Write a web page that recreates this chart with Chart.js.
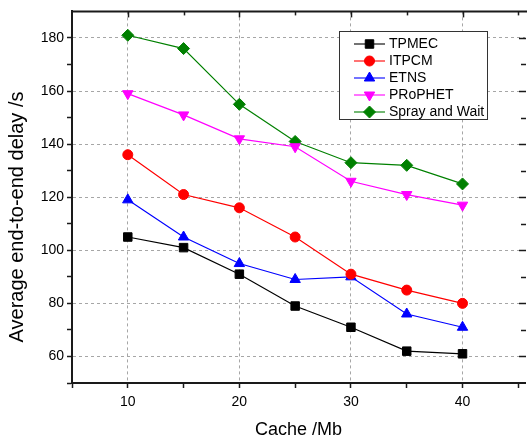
<!DOCTYPE html>
<html><head><meta charset="utf-8">
<script src="https://cdn.jsdelivr.net/npm/chart.js@4"></script>
<style>html,body{margin:0;padding:0;background:#fff}#wrap{width:532px;height:441px;position:relative}</style>
</head><body><div id="wrap"><canvas id="c" width="532" height="441"></canvas></div>
<script>
// ---- data ----
const cacheSizes = [10, 15, 20, 25, 30, 35, 40];
const tpmec     = [105, 101, 91, 79, 71, 62, 61];
const itpcm     = [136, 121, 116, 105, 91, 85, 80];
const etns      = [119, 105, 95, 89, 90, 76, 71];
const prophet   = [159, 151, 142, 139, 126, 121, 117];
const sprayWait = [181, 176, 155, 141, 133, 132, 125];
const seriesNames = ['TPMEC', 'ITPCM', 'ETNS', 'PRoPHET', 'Spray and Wait'];
const xTickLabels = [10, 20, 30, 40];
const yTickLabels = [60, 80, 100, 120, 140, 160, 180];
const xTitle = 'Cache /Mb';
const yTitle = 'Average end-to-end delay /s';

const FONT = '"Liberation Sans", Arial, sans-serif';
const seriesValues = [tpmec, itpcm, etns, prophet, sprayWait];
const styles = [
  {color: '#000000', pointStyle: 'rect',    radius: 6,   rotation: 0},
  {color: '#ff0000', pointStyle: 'circle',  radius: 5,   rotation: 0},
  {color: '#0000ff', pointStyle: 'triangle',radius: 6,   rotation: 0},
  {color: '#ff00ff', pointStyle: 'triangle',radius: 6,   rotation: 180},
  {color: '#008000', pointStyle: 'rectRot', radius: 6,   rotation: 0}
];

const datasets = seriesValues.map((vals, i) => ({
  label: seriesNames[i],
  data: cacheSizes.map((c, j) => ({x: c, y: vals[j]})),
  borderColor: styles[i].color,
  backgroundColor: styles[i].color,
  pointBackgroundColor: styles[i].color,
  pointBorderColor: styles[i].color,
  pointStyle: styles[i].pointStyle,
  pointRadius: styles[i].radius,
  pointRotation: styles[i].rotation,
  pointBorderWidth: 1,
  borderWidth: 1.2,
  tension: 0,
  fill: false
}));

const AXIS = '#1a1a1a';
const GRID = '#a6a6a6';

function drawMarker(ctx, ds, x, y) {
  if (Chart.helpers && Chart.helpers.drawPoint) {
    Chart.helpers.drawPoint(ctx, {pointStyle: ds.pointStyle, radius: ds.pointRadius, rotation: ds.pointRotation || 0, borderWidth: 1}, x, y);
  }
}

const framePlugin = {
  id: 'frame',
  afterDatasetsDraw(chart) {
    const {ctx, chartArea: a, scales} = chart;
    ctx.save();
    ctx.strokeStyle = AXIS;
    ctx.lineWidth = 2;
    ctx.beginPath();
    ctx.moveTo(a.left - 1, a.top);
    ctx.lineTo(a.right + 2, a.top);
    ctx.stroke();
    ctx.lineWidth = 1.5;
    for (let v = 10; v <= 45; v += 5) {
      const px = Math.round(scales.x.getPixelForValue(v)) + 0.5;
      const len = (v % 10 === 0) ? 6 : 4;
      ctx.beginPath(); ctx.moveTo(px, a.top); ctx.lineTo(px, a.top + len); ctx.stroke();
    }
    for (let v = 60; v <= 180; v += 10) {
      const py = Math.round(scales.y.getPixelForValue(v)) + 0.5;
      const len = (v % 20 === 0) ? 7 : 5;
      ctx.beginPath(); ctx.moveTo(a.right + 1, py); ctx.lineTo(a.right + 1 - len, py); ctx.stroke();
    }
    ctx.restore();
  },
  afterDraw(chart) {
    const ctx = chart.ctx;
    ctx.save();
    ctx.translate(17, 217);
    ctx.rotate(-Math.PI / 2);
    ctx.fillStyle = '#000';
    ctx.font = '20px ' + FONT;
    ctx.textAlign = 'center';
    ctx.textBaseline = 'middle';
    ctx.fillText(yTitle, 0, 0);
    ctx.restore();

    ctx.save();
    const L = 339.5, T = 31.5, W = 148, H = 88;
    ctx.fillStyle = '#fff';
    ctx.fillRect(L, T, W, H);
    ctx.strokeStyle = '#333';
    ctx.lineWidth = 1;
    ctx.strokeRect(L, T, W, H);
    chart.data.datasets.forEach((ds, i) => {
      const y = 44 + 17 * i;
      ctx.globalAlpha = 0.55;
      ctx.strokeStyle = ds.borderColor;
      ctx.lineWidth = 2;
      ctx.beginPath(); ctx.moveTo(354, y); ctx.lineTo(385, y); ctx.stroke();
      ctx.globalAlpha = 1;
      ctx.fillStyle = ds.pointBackgroundColor;
      ctx.strokeStyle = ds.pointBorderColor;
      ctx.lineWidth = 1;
      drawMarker(ctx, ds, 369.5, y);
      ctx.fillStyle = '#000';
      ctx.font = '14px ' + FONT;
      ctx.textAlign = 'left';
      ctx.textBaseline = 'middle';
      ctx.fillText(ds.label, 389, y + 0.5);
    });
    ctx.restore();
  }
};

new Chart(document.getElementById('c'), {
  type: 'line',
  data: {datasets},
  options: {
    responsive: false,
    animation: false,
    devicePixelRatio: 1,
    layout: {padding: {top: 9, right: 0, left: 0, bottom: 0}},
    plugins: {legend: {display: false}, tooltip: {enabled: false}},
    scales: {
      x: {
        type: 'linear',
        min: 5, max: 45.6,
        afterFit: s => { s.height = 58; },
        afterBuildTicks: s => {
          const t = [];
          for (let v = 5; v <= 45; v += 5) t.push({value: v});
          t.push({value: 45.6});
          s.ticks = t;
        },
        ticks: {
          autoSkip: false, maxRotation: 0, padding: 6,
          color: '#000',
          font: {family: FONT, size: 14},
          callback: v => xTickLabels.includes(v) ? String(v) : ''
        },
        grid: {
          color: c => (c.tick && xTickLabels.includes(c.tick.value)) ? GRID : 'rgba(0,0,0,0)',
          tickColor: c => (c.tick && c.tick.value <= 45) ? AXIS : 'rgba(0,0,0,0)',
          tickLength: 5, lineWidth: 1, tickWidth: 1.5
        },
        border: {display: true, color: AXIS, width: 2, dash: [3, 3]},
        title: {display: true, text: xTitle, color: '#000', font: {family: FONT, size: 18}, padding: {top: 0, bottom: 0}}
      },
      y: {
        type: 'linear',
        min: 50, max: 190,
        afterFit: s => { s.width = 72; },
        afterBuildTicks: s => {
          const t = [];
          for (let v = 50; v <= 190; v += 10) t.push({value: v});
          s.ticks = t;
        },
        ticks: {
          autoSkip: false, padding: 3,
          color: '#000',
          font: {family: FONT, size: 14},
          callback: v => yTickLabels.includes(v) ? String(v) : ''
        },
        grid: {
          color: c => (c.tick && yTickLabels.includes(c.tick.value)) ? GRID : 'rgba(0,0,0,0)',
          tickColor: c => (c.tick && c.tick.value < 190) ? AXIS : 'rgba(0,0,0,0)',
          tickLength: 5, lineWidth: 1, tickWidth: 1.5
        },
        border: {display: true, color: AXIS, width: 2, dash: [3, 3]},
        title: {display: false}
      }
    }
  },
  plugins: [framePlugin]
});
</script>
</body></html>
